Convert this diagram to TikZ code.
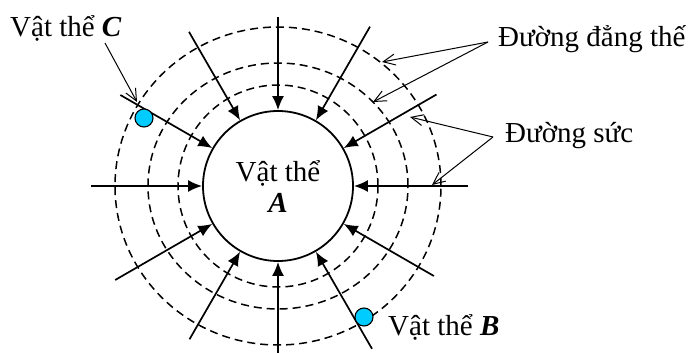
\documentclass[tikz,border=0pt]{standalone}
\usepackage{fontspec}
\setmainfont{Liberation Serif}
\usetikzlibrary{arrows.meta}
\definecolor{dotcyan}{RGB}{0,204,255}
\tikzset{
  field/.style={line width=1.7pt,-{Latex[length=14pt,width=12pt]}},
  equi/.style={line width=1.5pt,dash pattern=on 8pt off 5pt},
  pointer/.style={line width=1.0pt,-{Straight Barb[length=12pt,width=11pt]}},
  lbl/.style={inner sep=0pt,font=\fontsize{29}{33}\selectfont},
  dot/.style={circle,draw,line width=1.1pt,fill=dotcyan,minimum size=18pt,inner sep=0pt}
}
\begin{document}
\begin{tikzpicture}[x=1pt,y=1pt]
\useasboundingbox (-278,-167) rectangle (418,186);
% equipotential lines
\draw[equi] (0,0) ellipse [x radius=100,y radius=101];
\draw[equi] (0,0) ellipse [x radius=130,y radius=123];
\draw[equi] (0,0) ellipse [x radius=163,y radius=159];
% body A
\node[lbl,circle,draw,line width=1.8pt,minimum size=150pt,inner sep=0pt,align=center] (A) at (0,0) {Vật thể\\[-2pt]\textbf{\textit{A}}};
% field lines
\foreach \ang/\r in {0/190,30/183,60/184,90/169,120/178,150/182,180/187,210/188,240/177,270/168,300/188,330/180}{
  \coordinate (s\ang) at (\ang:\r pt);
  \draw[field] (s\ang) -- (A.\ang);
}
% small bodies
\node[dot] (C) at (-134,68) {};
\node[dot] (B) at (86,-131) {};
% labels
\node[lbl,anchor=base west] (labC) at (-268,149) {Vật thể \textbf{\textit{C}}};
\node[lbl,anchor=base west] (labE) at (220,139) {Đường đẳng thế};
\node[lbl,anchor=base west] (labF) at (227,43) {Đường sức};
\node[lbl,anchor=base west] (labB) at (110,-149) {Vật thể \textbf{\textit{B}}};
% pointers
\coordinate (pC0) at (-173,143);
\coordinate (pC1) at (-141,84);
\coordinate (pE0) at (210,144);
\coordinate (pE1) at (104,124);
\coordinate (pE2) at (95,84);
\coordinate (pF0) at (215,49);
\coordinate (pF1) at (132,69);
\coordinate (pF2) at (154,1);
\draw[pointer] (pC0) -- (pC1);
\draw[pointer] (pE0) -- (pE1);
\draw[pointer] (pE0) -- (pE2);
\draw[pointer] (pF0) -- (pF1);
\draw[pointer] (pF0) -- (pF2);
\end{tikzpicture}
\end{document}
